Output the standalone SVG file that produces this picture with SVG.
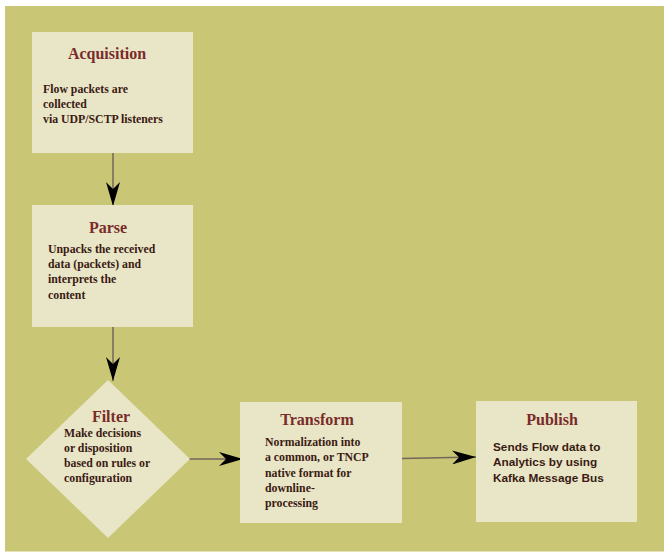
<svg xmlns="http://www.w3.org/2000/svg" width="664" height="552" viewBox="0 0 664 552">
  <defs>
    <marker id="head" viewBox="0 0 24 14" refX="24" refY="7" markerWidth="24" markerHeight="14" markerUnits="userSpaceOnUse" orient="auto">
      <path d="M0,0 L24,7 L0,14 L7,7 Z" fill="#000"/>
    </marker>
    <style>
      .box { fill: #E8E6C6; }
      .title { font-family: "Liberation Serif", "Times New Roman", serif; font-weight: bold; font-size: 16px; fill: #7A2B2B; text-anchor: middle; }
      .body { font-family: "Liberation Serif", "Times New Roman", serif; font-weight: bold; font-size: 11.8px; fill: #3B1A14; }
      .sans { font-family: "Liberation Sans", Arial, sans-serif; font-weight: bold; font-size: 11.8px; fill: #3B1A14; }
      .link { stroke: #75665C; stroke-width: 1.5; fill: none; marker-end: url(#head); }
    </style>
  </defs>

  <rect x="0" y="0" width="664" height="552" fill="#FFFFFF"/>
  <rect x="5" y="6" width="659" height="545.5" fill="#C9C675"/>

  <g id="connectors">
    <line class="link" x1="113" y1="153" x2="113" y2="206"/>
    <line class="link" x1="113" y1="327" x2="113" y2="381"/>
    <line class="link" x1="189" y1="459" x2="243" y2="459"/>
    <line class="link" x1="402" y1="458.5" x2="476" y2="457"/>
  </g>

  <g id="acquisition">
    <rect class="box" x="32" y="32" width="161" height="121"/>
    <text class="title" x="107" y="59">Acquisition</text>
    <text class="body" x="43" y="93">Flow packets are</text>
    <text class="body" x="43" y="108">collected</text>
    <text class="body" x="43" y="123">via UDP/SCTP listeners</text>
  </g>

  <g id="parse">
    <rect class="box" x="32" y="205" width="161" height="122"/>
    <text class="title" x="108" y="233">Parse</text>
    <text class="body" x="48" y="253">Unpacks the received</text>
    <text class="body" x="48" y="268">data (packets) and</text>
    <text class="body" x="48" y="283">interprets the</text>
    <text class="body" x="48" y="299">content</text>
  </g>

  <g id="filter">
    <polygon class="box" points="108,380 190,459 108,538 26,459"/>
    <text class="title" x="111" y="422">Filter</text>
    <text class="body" x="64" y="437">Make decisions</text>
    <text class="body" x="64" y="452">or disposition</text>
    <text class="body" x="64" y="467">based on rules or</text>
    <text class="body" x="64" y="482">configuration</text>
  </g>

  <g id="transform">
    <rect class="box" x="240" y="402" width="162" height="121"/>
    <text class="title" x="317" y="425">Transform</text>
    <text class="body" x="265" y="446">Normalization into</text>
    <text class="body" x="265" y="461">a common, or TNCP</text>
    <text class="body" x="265" y="477">native format for</text>
    <text class="body" x="265" y="492">downline-</text>
    <text class="body" x="265" y="507">processing</text>
  </g>

  <g id="publish">
    <rect class="box" x="476" y="401" width="161" height="121"/>
    <text class="title" x="552" y="425">Publish</text>
    <text class="sans" x="493" y="451">Sends Flow data to</text>
    <text class="sans" x="493" y="466">Analytics by using</text>
    <text class="sans" x="493" y="482">Kafka Message Bus</text>
  </g>
</svg>
